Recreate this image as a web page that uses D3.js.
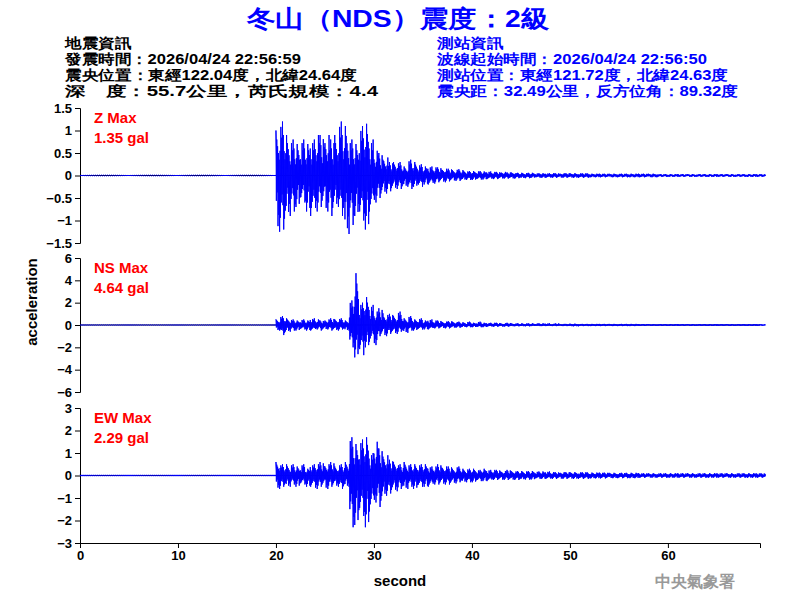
<!DOCTYPE html><html><head><meta charset="utf-8"><script src="https://cdn.jsdelivr.net/npm/d3@7"></script>
<style>body{margin:0;background:#fff}text{font-family:Arial,"Liberation Sans",sans-serif}</style></head><body>
<svg id="c" width="800" height="600"></svg>
<script>
// envelope peaks per 0.5 s bin from 20 s to 50 s
const binStart=20, binStep=0.5;
const zUp=[1.0,1.2,0.9,0.8,0.7,0.8,0.7,0.8,0.9,0.9,0.9,0.8,0.9,1.2,1.1,0.8,0.7,1.1,1.15,0.8,0.55,0.5,0.4,0.3,0.3,0.3,0.2,0.35,0.3,0.25,0.2,0.2,0.18,0.18,0.15,0.15,0.12,0.14,0.12,0.1,0.1,0.1,0.09,0.09,0.08,0.08,0.08,0.07,0.07,0.06,0.06,0.06,0.06,0.05,0.05,0.05,0.05,0.05,0.05,0.05];
const zLo=[-1.25,-1.2,-0.9,-0.8,-0.7,-0.6,-0.8,-0.9,-0.8,-0.7,-0.8,-0.9,-0.7,-0.9,-1.3,-1.1,-0.9,-1.0,-1.2,-0.8,-0.6,-0.5,-0.4,-0.35,-0.3,-0.3,-0.25,-0.3,-0.25,-0.25,-0.2,-0.2,-0.18,-0.15,-0.15,-0.13,-0.12,-0.12,-0.1,-0.1,-0.1,-0.09,-0.09,-0.08,-0.08,-0.08,-0.07,-0.07,-0.07,-0.06,-0.06,-0.06,-0.05,-0.05,-0.05,-0.05,-0.05,-0.05,-0.05,-0.05];
const nsUp=[0.5,0.8,0.6,0.5,0.4,0.5,0.4,0.6,0.5,0.4,0.5,0.6,0.5,0.6,0.4,2.2,4.64,2.0,2.5,1.8,1.2,1.5,0.9,1.0,0.8,1.2,0.6,0.8,0.5,0.6,0.4,0.5,0.4,0.4,0.3,0.35,0.3,0.3,0.25,0.3,0.2,0.3,0.2,0.2,0.2,0.2,0.15,0.2,0.15,0.15,0.15,0.15,0.15,0.15,0.15,0.15,0.1,0.15,0.1,0.1];
const nsLo=[-0.5,-0.9,-0.6,-0.5,-0.5,-0.4,-0.5,-0.5,-0.4,-0.5,-0.4,-0.5,-0.5,-0.4,-0.5,-2.0,-2.9,-2.7,-2.0,-1.5,-1.8,-1.0,-1.0,-0.8,-0.8,-0.6,-0.7,-0.5,-0.5,-0.4,-0.4,-0.4,-0.3,-0.3,-0.3,-0.3,-0.25,-0.25,-0.2,-0.2,-0.2,-0.2,-0.2,-0.15,-0.15,-0.15,-0.15,-0.15,-0.12,-0.12,-0.12,-0.12,-0.1,-0.1,-0.1,-0.1,-0.1,-0.1,-0.1,-0.1];
const ewUp=[0.6,0.5,0.5,0.5,0.4,0.5,0.3,0.5,0.5,0.6,0.5,0.6,0.4,0.5,0.6,1.7,1.4,1.6,1.7,1.0,1.5,1.2,0.9,0.7,0.6,0.5,0.6,0.5,0.5,0.5,0.5,0.4,0.4,0.5,0.4,0.4,0.3,0.4,0.3,0.3,0.3,0.25,0.3,0.25,0.25,0.25,0.2,0.25,0.2,0.2,0.2,0.2,0.2,0.18,0.18,0.18,0.15,0.15,0.15,0.15];
const ewLo=[-0.6,-0.5,-0.5,-0.4,-0.5,-0.4,-0.5,-0.5,-0.6,-0.5,-0.6,-0.5,-0.5,-0.6,-0.5,-2.3,-2.2,-1.8,-2.3,-1.6,-1.2,-1.4,-0.9,-0.8,-0.7,-0.6,-0.6,-0.5,-0.6,-0.5,-0.5,-0.5,-0.4,-0.4,-0.4,-0.4,-0.35,-0.3,-0.3,-0.3,-0.3,-0.25,-0.25,-0.25,-0.2,-0.2,-0.2,-0.2,-0.2,-0.2,-0.18,-0.18,-0.18,-0.15,-0.15,-0.15,-0.15,-0.15,-0.15,-0.15];
// tail amplitude per 1 s bin from 50 s to 69 s
const tailStart=50, tailStep=1;
const zTail=[0.05,0.05,0.04,0.04,0.04,0.04,0.04,0.04,0.04,0.03,0.03,0.03,0.03,0.03,0.03,0.03,0.03,0.03,0.03,0.03];
const nsTail=[0.12,0.1,0.1,0.1,0.1,0.1,0.1,0.08,0.08,0.08,0.08,0.08,0.08,0.08,0.08,0.08,0.08,0.08,0.08,0.08];
const ewTail=[0.15,0.15,0.13,0.13,0.12,0.12,0.12,0.1,0.1,0.1,0.1,0.1,0.1,0.1,0.1,0.1,0.1,0.1,0.1,0.1];
const preNoise={Z:0.01,NS:0.03,EW:0.03};
// fixed within-bin shape (fraction of bin peak), alternating sign
const shape=[1,0.45,0.8,0.3,0.65,0.9,0.5,0.7,0.35,1,0.55,0.75];
const xTicks=[0,10,20,30,40,50,60];
const panels=[
 {name:"Z",label:"Z Max",max:"1.35 gal",dom:[-1.5,1.5],ticks:[-1.5,-1,-0.5,0,0.5,1,1.5],up:zUp,lo:zLo,tail:zTail,onset:20.0,y0:108,y1:243},
 {name:"NS",label:"NS Max",max:"4.64 gal",dom:[-6,6],ticks:[-6,-4,-2,0,2,4,6],up:nsUp,lo:nsLo,tail:nsTail,onset:20.2,y0:258,y1:392},
 {name:"EW",label:"EW Max",max:"2.29 gal",dom:[-3,3],ticks:[-3,-2,-1,0,1,2,3],up:ewUp,lo:ewLo,tail:ewTail,onset:20.0,y0:408,y1:543}];
const svg=d3.select("#c");
const x=d3.scaleLinear().domain([0,69.4]).range([80,760]);
svg.append("text").attr("x",247).attr("y",27).attr("fill","#0000ff").attr("font-size",24).attr("font-weight","bold").attr("textLength",302).attr("lengthAdjust","spacingAndGlyphs").text("冬山（NDS）震度：2級");
const L=["地震資訊","發震時間：2026/04/24 22:56:59","震央位置：東經122.04度，北緯24.64度","深　度：55.7公里，芮氏規模：4.4"];
const Lw=[66,236,292,313];
const R=["測站資訊","波線起始時間：2026/04/24 22:56:50","測站位置：東經121.72度，北緯24.63度","震央距：32.49公里，反方位角：89.32度"];
const Rw=[66,270,291,301];
L.forEach((t,i)=>svg.append("text").attr("x",65).attr("y",48+i*16).attr("font-size",14).attr("font-weight","bold").attr("fill","#000").attr("textLength",Lw[i]).attr("lengthAdjust","spacingAndGlyphs").text(t));
R.forEach((t,i)=>svg.append("text").attr("x",437).attr("y",48+i*16).attr("font-size",14).attr("font-weight","bold").attr("fill","#0000ff").attr("textLength",Rw[i]).attr("lengthAdjust","spacingAndGlyphs").text(t));
panels.forEach((p,k)=>{
 const y=d3.scaleLinear().domain(p.dom).range([p.y1,p.y0]);
 const g=svg.append("g");
 g.append("g").attr("transform","translate(80,0)").call(d3.axisLeft(y).tickValues(p.ticks).tickSize(5).tickFormat(d3.format("")))
  .call(a=>a.selectAll("text").attr("font-size",13).attr("font-weight","bold").attr("font-family","Arial"));
 g.append("line").attr("x1",80).attr("x2",760).attr("y1",y(0)).attr("y2",y(0)).attr("stroke","#000");
 const pts=[];
 const n=preNoise[p.name];
 for(let t=0;t<p.onset;t+=0.2){pts.push([t,n]);pts.push([t+0.1,-n]);}
 const m=shape.length, dt=binStep/m;
 p.up.forEach((u,i)=>{const t=binStart+i*binStep;
  for(let j=0;j<m;j++){const s=shape[(j+i*5)%m];pts.push([t+j*dt, j%2? p.lo[i]*s : u*s]);}});
 p.tail.forEach((a,i)=>{const t=tailStart+i*tailStep;const mm=m*2,d2=tailStep/mm;
  for(let j=0;j<mm;j++){const s=shape[(j+i*3)%m];pts.push([t+j*d2,(j%2?-a:a)*s]);}});
 g.append("path").attr("d",d3.line().x(d=>x(d[0])).y(d=>y(d[1]))(pts)).attr("fill","none").attr("stroke","#0000ff").attr("stroke-width",1);
 g.append("text").attr("x",94).attr("y",p.y0+15).attr("fill","#ff0000").attr("font-size",15).attr("font-weight","bold").text(p.label);
 g.append("text").attr("x",94).attr("y",p.y0+35).attr("fill","#ff0000").attr("font-size",15).attr("font-weight","bold").text(p.max);
});
svg.append("g").attr("transform","translate(0,543)").call(d3.axisBottom(x).tickValues(xTicks).tickSize(5))
 .call(a=>a.selectAll("text").attr("font-size",13).attr("font-weight","bold").attr("font-family","Arial"));
svg.append("text").attr("x",400).attr("y",586).attr("text-anchor","middle").attr("font-size",15).attr("font-weight","bold").text("second");
svg.append("text").attr("transform","translate(37,302) rotate(-90)").attr("text-anchor","middle").attr("font-size",15).attr("font-weight","bold").text("acceleration");
svg.append("text").attr("x",655).attr("y",587).attr("font-size",16).attr("font-weight","bold").attr("fill","#999").attr("font-family","Noto Sans CJK TC").text("中央氣象署");
</script></body></html>
